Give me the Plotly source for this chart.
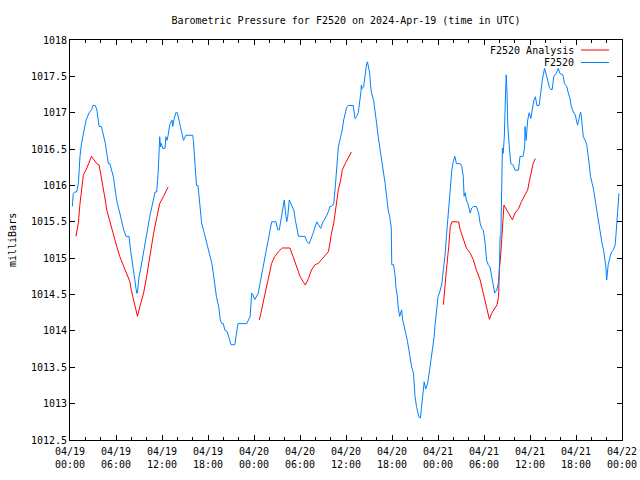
import plotly.graph_objects as go
import pandas as pd

START = pd.Timestamp("2024-04-19 00:00")

# F2520 observed (hours since 04/19 00:00 UTC, millibars)
obs_hours = [0.3, 0.43, 0.6, 0.85, 1.1, 1.3, 1.5, 1.74, 2.1, 2.5, 2.8, 3.0, 3.3, 3.5, 3.7, 3.8, 4.1, 4.3, 4.6, 4.8,
             5.0, 5.2, 5.4, 5.65, 5.96, 6.17, 6.5, 6.7, 7.0, 7.3, 7.7, 7.9, 8.1, 8.35, 8.5, 8.7, 8.8, 9.0, 9.2, 9.4,
             9.65, 9.9, 10.1, 10.4, 10.65, 10.9, 11.1, 11.3, 11.5, 11.65, 11.7, 11.8, 11.9, 12.1, 12.4, 12.5, 12.65,
             12.8, 13.0, 13.3, 13.4, 13.6, 13.8, 14.0, 14.2, 14.4, 14.6, 14.8, 14.9, 15.1, 16.0, 16.1, 16.3, 16.5,
             16.7, 16.96, 17.17, 17.4, 17.6, 17.83, 18.0, 18.26, 18.5, 18.7, 18.9, 19.1, 19.4, 19.6, 19.8, 20.0,
             20.2, 20.5, 20.76, 21.0, 21.5, 21.65, 21.9, 23.05, 23.3, 23.5, 23.7, 23.85, 24.1, 24.3, 24.56, 24.78,
             25.0, 25.2, 25.4, 25.65, 25.87, 26.1, 26.3, 26.87, 27.1, 27.3, 27.5, 27.7, 27.95, 28.1, 28.26, 28.4,
             28.6, 28.8, 29.0, 29.2, 29.4, 29.65, 29.8, 30.65, 30.9, 31.2, 31.4, 31.7, 31.96, 32.2, 32.4, 32.7,
             33.0, 33.3, 33.5, 33.7, 33.9, 34.1, 34.4, 34.6, 34.8, 35.0, 35.3, 35.5, 35.7, 35.9, 36.1, 36.3, 36.95,
             37.17, 37.4, 37.6, 37.8, 37.95, 38.0, 38.1, 38.3, 38.5, 38.7, 38.8, 38.9, 39.1, 39.2, 39.3, 39.6, 39.8,
             40.0, 40.2, 40.4, 40.7, 40.9, 41.1, 41.3, 41.5, 41.7, 41.9, 41.97, 42.2, 42.4, 42.5, 42.7, 42.8, 43.0,
             43.1, 43.25, 43.4, 43.6, 43.8, 44.0, 44.2, 44.4, 44.57, 44.8, 44.9, 45.0, 45.2, 45.5, 45.7, 45.9, 46.1,
             46.2, 46.4, 46.65, 46.9, 47.1, 47.3, 47.5, 47.6, 47.75, 47.9, 48.0, 48.3, 48.5, 48.7, 48.9, 49.1, 49.35,
             49.6, 49.8, 50.0, 50.2, 50.4, 50.9, 51.1, 51.3, 51.4, 51.55, 51.7, 51.9, 52.2, 52.4, 52.6, 53.0, 53.3,
             53.5, 53.7, 53.9, 54.1, 54.35, 54.56, 54.78, 55.0, 55.2, 55.4, 55.65, 55.87, 56.0, 56.1, 56.2, 56.3,
             56.4, 56.5, 56.65, 56.8, 56.9, 57.0, 57.1, 57.3, 57.5, 57.8, 58.05, 58.5, 58.7, 59.1, 59.3, 59.35,
             59.5, 59.7, 59.9, 60.1, 60.3, 60.5, 60.7, 60.9, 61.2, 61.4, 61.6, 61.9, 62.05, 62.3, 62.5, 62.7, 62.9,
             63.1, 63.4, 63.7, 63.9, 64.3, 64.5, 64.8, 65.0, 65.2, 65.4, 65.65, 65.9, 66.1, 66.2, 66.4, 66.6, 66.7,
             66.95, 67.2, 67.4, 67.6, 67.9, 68.1, 68.3, 68.5, 68.7, 68.95, 69.1, 69.4, 69.6, 69.8, 69.9, 70.0,
             70.2, 70.45, 70.65, 70.87, 71.1, 71.2, 71.4, 71.5, 71.6]
obs_values = [1015.71, 1015.89, 1015.91, 1015.91, 1016.03, 1016.40, 1016.58, 1016.72, 1016.90, 1017.0, 1017.04,
              1017.1, 1017.1, 1017.04, 1016.9, 1016.81, 1016.81, 1016.72, 1016.58, 1016.44, 1016.3, 1016.3,
              1016.21, 1016.12, 1015.89, 1015.75, 1015.62, 1015.52, 1015.39, 1015.3, 1015.3, 1015.11, 1014.97,
              1014.75, 1014.65, 1014.52, 1014.52, 1014.75, 1014.84, 1014.97, 1015.16, 1015.27, 1015.39, 1015.57,
              1015.71, 1015.85, 1015.91, 1015.91, 1016.17, 1016.53, 1016.67, 1016.53, 1016.58, 1016.51, 1016.51,
              1016.67, 1016.62, 1016.69, 1016.83, 1016.9, 1016.81, 1016.92, 1017.0, 1017.0, 1016.92, 1016.81,
              1016.72, 1016.62, 1016.64, 1016.69, 1016.69, 1016.62, 1016.30, 1016.0, 1016.0, 1015.64, 1015.48,
              1015.39, 1015.3, 1015.2, 1015.11, 1015.02, 1014.93, 1014.79, 1014.61, 1014.47, 1014.33, 1014.15,
              1014.1, 1014.1, 1014.01, 1013.99, 1013.9, 1013.81, 1013.81, 1013.92, 1014.1, 1014.1, 1014.15,
              1014.2, 1014.52, 1014.5, 1014.43, 1014.47, 1014.52, 1014.65, 1014.77, 1014.86, 1014.97, 1015.11,
              1015.25, 1015.39, 1015.5, 1015.5, 1015.39, 1015.39, 1015.52, 1015.66, 1015.8, 1015.64, 1015.5,
              1015.57, 1015.8, 1015.75, 1015.71, 1015.66, 1015.52, 1015.39, 1015.3, 1015.3, 1015.23, 1015.2,
              1015.25, 1015.34, 1015.43, 1015.5, 1015.46, 1015.41, 1015.5, 1015.55, 1015.59, 1015.64, 1015.71,
              1015.71, 1015.75, 1015.98, 1016.21, 1016.53, 1016.67, 1016.76, 1016.9, 1017.0, 1017.08, 1017.1,
              1017.1, 1016.92, 1016.95, 1017.0, 1017.13, 1017.29, 1017.38, 1017.33, 1017.36, 1017.54, 1017.68,
              1017.7, 1017.63, 1017.54, 1017.38, 1017.29, 1017.17, 1017.04, 1016.85, 1016.67, 1016.53, 1016.35,
              1016.21, 1016.03, 1015.85, 1015.66, 1015.57, 1015.43, 1014.91, 1014.91, 1014.77, 1014.61, 1014.47,
              1014.33, 1014.2, 1014.24, 1014.29, 1014.15, 1014.06, 1013.97, 1013.87, 1013.74, 1013.6, 1013.5,
              1013.42, 1013.28, 1013.1, 1012.96, 1012.82, 1012.8, 1013.0, 1013.19, 1013.3, 1013.2, 1013.28,
              1013.46, 1013.6, 1013.74, 1013.92, 1014.06, 1014.24, 1014.38, 1014.47, 1014.56, 1014.65, 1014.84,
              1015.02, 1015.3, 1015.62, 1015.94, 1016.21, 1016.33, 1016.4, 1016.3, 1016.3, 1016.26, 1016.12,
              1015.85, 1015.9, 1015.8, 1015.75, 1015.62, 1015.69, 1015.71, 1015.71, 1015.62, 1015.48, 1015.41,
              1015.39, 1015.25, 1014.97, 1014.91, 1014.88, 1014.75, 1014.61, 1014.52, 1014.56, 1014.65, 1014.84,
              1015.3, 1015.3, 1016.1, 1016.51, 1016.44, 1016.67, 1017.24, 1017.52, 1017.27, 1016.83, 1016.53,
              1016.3, 1016.28, 1016.21, 1016.21, 1016.4, 1016.4, 1016.53, 1016.81, 1016.62, 1016.9, 1017.0,
              1016.92, 1017.08, 1017.17, 1017.22, 1017.1, 1017.1, 1017.27, 1017.45, 1017.61, 1017.56, 1017.45,
              1017.36, 1017.32, 1017.32, 1017.5, 1017.54, 1017.61, 1017.54, 1017.52, 1017.4, 1017.36, 1017.27,
              1017.2, 1017.08, 1017.01, 1016.97, 1016.88, 1016.83, 1016.92, 1017.01, 1016.95, 1016.67, 1016.62,
              1016.56, 1016.4, 1016.12, 1016.03, 1015.94, 1015.8, 1015.66, 1015.52, 1015.39, 1015.2, 1015.11,
              1014.97, 1014.88, 1014.7, 1014.91, 1015.02, 1015.09, 1015.11, 1015.18, 1015.3, 1015.66, 1015.68,
              1015.89]

# F2520 Analysis (three separate runs)
ana1_hours = [0.78, 1.1, 1.3, 1.5, 1.74, 2.2, 2.6, 2.8, 3.0, 3.5, 3.8, 4.1, 4.35, 4.6, 4.8, 5.2, 5.65, 6.1, 6.5,
              7.0, 7.4, 7.8, 8.0, 8.3, 8.5, 8.8, 9.1, 9.6, 10.0, 10.4, 10.9, 11.3, 11.7, 12.2, 12.6, 12.8]
ana1_values = [1015.3, 1015.49, 1015.75, 1015.94, 1016.14, 1016.24, 1016.35, 1016.4, 1016.37, 1016.3, 1016.28,
               1016.12, 1015.98, 1015.8, 1015.66, 1015.5, 1015.3, 1015.16, 1015.02, 1014.88, 1014.77, 1014.68,
               1014.56, 1014.43, 1014.31, 1014.2, 1014.33, 1014.52, 1014.75, 1015.02, 1015.34, 1015.55, 1015.75,
               1015.85, 1015.94, 1015.98]
ana2_hours = [24.7, 25.0, 25.5, 25.9, 26.3, 26.7, 27.2, 27.7, 28.7, 29.1, 29.6, 30.0, 30.4, 30.7, 31.1, 31.5,
              31.96, 32.4, 32.8, 33.3, 33.7, 33.9, 34.1, 34.4, 34.6, 34.8, 35.0, 35.3, 35.5, 35.9, 36.5, 36.7]
ana2_values = [1014.15, 1014.29, 1014.52, 1014.72, 1014.93, 1015.02, 1015.09, 1015.14, 1015.14, 1015.02, 1014.86,
               1014.75, 1014.68, 1014.63, 1014.72, 1014.84, 1014.91, 1014.93, 1014.98, 1015.04, 1015.09, 1015.2,
               1015.34, 1015.48, 1015.64, 1015.8, 1015.94, 1016.07, 1016.21, 1016.3, 1016.42, 1016.46]
ana3_hours = [48.7, 48.9, 49.1, 49.4, 49.6, 49.8, 50.7, 50.9, 51.3, 51.7, 52.2, 52.6, 53.0, 53.5, 53.9, 54.35,
              54.7, 54.99, 55.4, 55.7, 55.9, 56.0, 56.2, 56.4, 56.6, 57.2, 57.7, 58.05, 58.5, 58.9, 59.4, 59.7,
              59.9, 60.2, 60.4, 60.7]
ana3_values = [1014.36, 1014.56, 1014.84, 1015.16, 1015.43, 1015.5, 1015.5, 1015.39, 1015.25, 1015.14, 1015.07,
               1014.98, 1014.84, 1014.7, 1014.52, 1014.33, 1014.16, 1014.24, 1014.31, 1014.36, 1014.47, 1014.84,
               1015.07, 1015.43, 1015.73, 1015.62, 1015.53, 1015.62, 1015.68, 1015.78, 1015.87, 1015.94, 1016.05,
               1016.21, 1016.3, 1016.37]

x_tick_hours = [0, 6, 12, 18, 24, 30, 36, 42, 48, 54, 60, 66, 72]
x_tick_labels = ["04/19<br>00:00", "04/19<br>06:00", "04/19<br>12:00", "04/19<br>18:00",
                 "04/20<br>00:00", "04/20<br>06:00", "04/20<br>12:00", "04/20<br>18:00",
                 "04/21<br>00:00", "04/21<br>06:00", "04/21<br>12:00", "04/21<br>18:00",
                 "04/22<br>00:00"]
y_tick_values = [1012.5, 1013, 1013.5, 1014, 1014.5, 1015, 1015.5, 1016, 1016.5, 1017, 1017.5, 1018]
y_tick_labels = ["1012.5", "1013", "1013.5", "1014", "1014.5", "1015", "1015.5", "1016", "1016.5", "1017",
                 "1017.5", "1018"]

RED = "#ff0000"
BLUE = "#0080ff"
FONT = "DejaVu Sans Mono"


def to_time(hours):
    return [START + pd.Timedelta(hours=h) for h in hours]


ana_x = to_time(ana1_hours) + [None] + to_time(ana2_hours) + [None] + to_time(ana3_hours)
ana_y = ana1_values + [None] + ana2_values + [None] + ana3_values

fig = go.Figure()
fig.add_trace(go.Scatter(x=ana_x, y=ana_y, mode="lines", name="F2520 Analysis",
                         line=dict(color=RED, width=1), connectgaps=False))
fig.add_trace(go.Scatter(x=to_time(obs_hours), y=obs_values, mode="lines", name="F2520",
                         line=dict(color=BLUE, width=1)))

fig.update_layout(
    width=640, height=480,
    margin=dict(l=70, r=18, t=40, b=40, autoexpand=False),
    paper_bgcolor="white", plot_bgcolor="white",
    showlegend=False,
    font=dict(family=FONT, size=10, color="black"),
    title=dict(text="Barometric Pressure for F2520 on 2024-Apr-19 (time in UTC)",
               x=(70 + 276) / 640, xanchor="center", xref="container",
               y=1 - 20 / 480, yanchor="middle", yref="container", automargin=False,
               font=dict(family=FONT, size=10, color="black")),
)
fig.update_xaxes(
    range=[START, START + pd.Timedelta(hours=72)],
    tickvals=to_time(x_tick_hours), ticktext=x_tick_labels,
    automargin=False,
    showgrid=False, zeroline=False,
    showline=True, linecolor="black", linewidth=1, mirror="ticks",
    ticks="inside", ticklen=5, tickwidth=1, tickcolor="black",
    minor=dict(dtick=2 * 3600 * 1000, ticks="inside", ticklen=3, tickcolor="black", showgrid=False),
    tickfont=dict(family=FONT, size=10),
    ticklabelstandoff=2,
)
fig.update_yaxes(
    range=[1012.5, 1018],
    tickvals=y_tick_values, ticktext=y_tick_labels,
    automargin=False,
    showgrid=False, zeroline=False,
    showline=True, linecolor="black", linewidth=1, mirror="ticks",
    ticks="inside", ticklen=5, tickwidth=1, tickcolor="black",
    tickfont=dict(family=FONT, size=10),
)

# y-axis title
fig.add_annotation(text="milliBars", xref="paper", yref="paper", x=(12 - 70) / 552, y=0.5,
                   textangle=-90, showarrow=False, xanchor="center", yanchor="middle",
                   font=dict(family=FONT, size=10))

# gnuplot-style key (text then line sample)
key_rows = [("F2520 Analysis", RED, 50), ("F2520", BLUE, 62.5)]
for label, color, ypix in key_rows:
    yp = (440 - ypix) / 400
    fig.add_annotation(text=label, xref="paper", yref="paper", x=(576 - 70) / 552, y=yp,
                       showarrow=False, xanchor="right", yanchor="middle",
                       font=dict(family=FONT, size=10))
    fig.add_shape(type="line", xref="paper", yref="paper",
                  x0=(581 - 70) / 552, x1=(609 - 70) / 552, y0=yp, y1=yp,
                  line=dict(color=color, width=1))

fig.write_html("out.html",
               config={"displayModeBar": False},
               post_script="document.body.style.margin='0';document.body.style.padding='0';")
